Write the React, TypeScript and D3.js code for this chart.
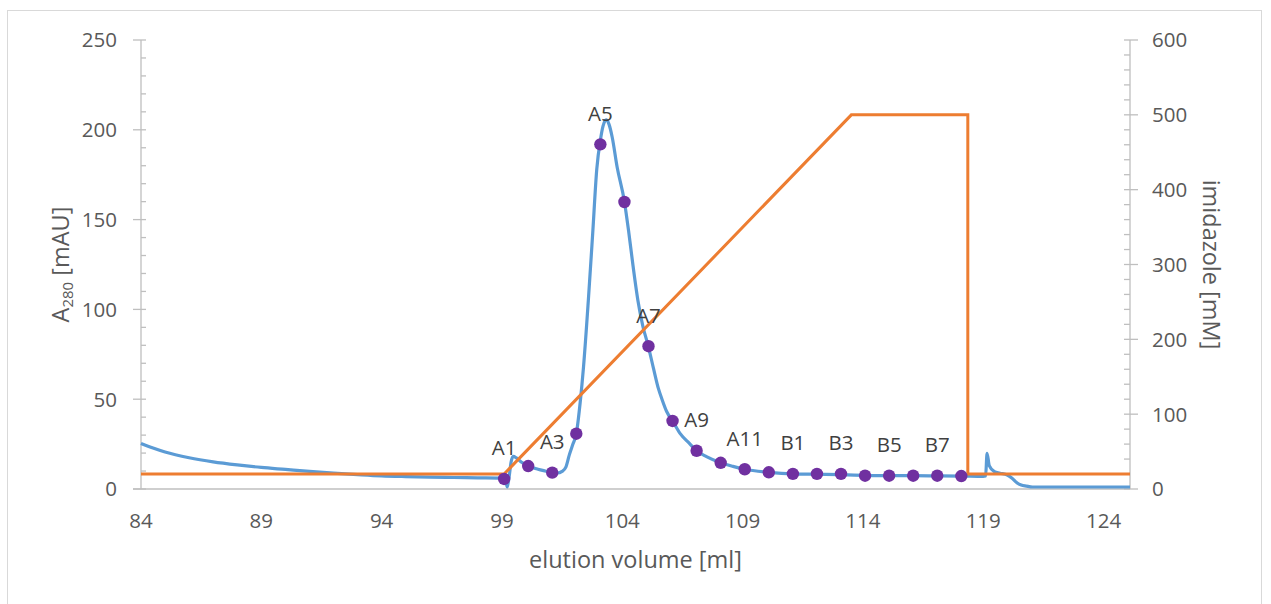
import React from "react";
import * as d3 from "d3";

// A280 trace (elution volume [ml], absorbance [mAU])
const uvVolume = [
  84.0, 84.5, 85.0, 86.0, 87.0, 88.0, 89.0, 90.0, 91.0, 92.0, 93.0, 94.0, 95.0, 96.0, 97.0, 98.0, 99.0,
  99.15, 99.22, 99.3, 99.38, 99.47, 99.6, 99.8, 100.09, 100.5, 100.8, 101.09, 101.3, 101.5, 101.65, 101.8,
  101.95, 102.09, 102.25, 102.39, 102.59, 102.77, 102.94, 103.1, 103.2, 103.33, 103.45, 103.58, 103.79,
  104.09, 104.27, 104.45, 104.65, 104.85, 105.08, 105.3, 105.5, 105.65, 105.85, 106.09, 106.4, 106.79,
  107.09, 107.5, 108.09, 108.6, 109.09, 110.09, 111.09, 112.09, 113.09, 114.09, 115.09, 116.09, 117.09,
  118.09, 119.0, 119.1, 119.16, 119.25, 119.47, 119.7, 120.0, 120.2, 120.4, 120.58, 120.8, 121.05, 122.0,
  123.0, 124.0, 125.1,
];
const uvAbs = [
  25.4, 22.8, 20.6, 17.4, 15.1, 13.4, 12.0, 10.9, 9.8, 8.8, 8.0, 7.3, 6.9, 6.6, 6.4, 6.2, 6.0,
  5.0, 1.1, 7, 15, 18.2, 17.3, 15.0, 12.8, 11.0, 10.0, 9.1, 8.9, 9.8, 12, 19,
  25, 30.8, 48, 68, 105, 142, 178, 195, 202, 205.5, 203, 196, 179,
  160, 143, 124, 105, 91, 79.6, 67, 56, 50, 43, 37.9, 31, 25.4,
  21.3, 18, 14.6, 12.6, 11.0, 9.3, 8.4, 8.2, 8.0, 7.6, 7.4, 7.4, 7.3,
  7.2, 7.0, 7.2, 19.9, 13, 9.6, 8.8, 7.8, 6, 3.5, 2.2, 1.6, 1.1, 1.1,
  1.1, 1.1, 1.1,
];

// Imidazole gradient (elution volume [ml], concentration [mM])
const imVolume = [84.0, 99.09, 113.52, 118.36, 118.36, 125.1];
const imConc = [20, 20, 500, 500, 20, 20];

// Collected fractions
const fracVolume = [
  99.09, 100.09, 101.09, 102.09, 103.09, 104.09, 105.09, 106.09, 107.09, 108.09,
  109.09, 110.09, 111.09, 112.09, 113.09, 114.09, 115.09, 116.09, 117.09, 118.09,
];
const fracAbs = [
  5.6, 12.8, 9.1, 30.8, 191.9, 159.8, 79.5, 37.9, 21.3, 14.6,
  11.0, 9.3, 8.4, 8.4, 8.4, 7.4, 7.4, 7.4, 7.4, 7.2,
];
const fracLabels = [
  "A1", "", "A3", "", "A5", "", "A7", "", "A9", "",
  "A11", "", "B1", "", "B3", "", "B5", "", "B7", "",
];

const xTicks = [84, 89, 94, 99, 104, 109, 114, 119, 124];
const yLeftTicks = [0, 50, 100, 150, 200, 250];
const yRightTicks = [0, 100, 200, 300, 400, 500, 600];

const W = 1271;
const H = 604;
const FONT = "'Open Sans', 'DejaVu Sans', sans-serif";
const AXIS = "#bfbfbf";
const TXT = "#595959";

export default function App() {
  const x = d3.scaleLinear().domain([84, 125.1]).range([141, 1130]);
  const yL = d3.scaleLinear().domain([0, 250]).range([489, 40]);
  const yR = d3.scaleLinear().domain([0, 600]).range([489, 40]);

  const uvLine = d3
    .line<number>()
    .x((_, i) => x(uvVolume[i]))
    .y((d) => yL(d))
    .curve(d3.curveMonotoneX)(uvAbs) as string;

  const imLine = d3
    .line<number>()
    .x((_, i) => x(imVolume[i]))
    .y((d) => yR(d))(imConc) as string;

  const leftMinor = d3.range(0, 251, 10).filter((v) => v % 50 !== 0);
  const rightMinor = d3.range(0, 601, 20).filter((v) => v % 100 !== 0);

  const x0 = x.range()[0];
  const x1 = x.range()[1];
  const y0 = yL.range()[0];
  const yTop = yL.range()[1];

  return (
    <svg
      width={W}
      height={H}
      style={{ position: "absolute", left: 0, top: 0, background: "#fff" }}
      fontFamily={FONT}
    >
      <rect x={7.5} y={10.5} width={1254} height={640} fill="#fff" stroke="#d9d9d9" strokeWidth={1} />

      {/* left axis */}
      <line x1={x0} x2={x0} y1={yTop} y2={y0} stroke={AXIS} strokeWidth={1.3} />
      {yLeftTicks.map((t) => (
        <g key={"l" + t}>
          <line x1={x0 - 8} x2={x0 + 5} y1={yL(t)} y2={yL(t)} stroke={AXIS} strokeWidth={1.3} />
          <text x={117} y={yL(t)} dy="0.36em" textAnchor="end" fontSize={20.5} fill={TXT}>
            {t}
          </text>
        </g>
      ))}
      {leftMinor.map((t) => (
        <line key={"lm" + t} x1={x0} x2={x0 + 5} y1={yL(t)} y2={yL(t)} stroke={AXIS} strokeWidth={1.3} />
      ))}

      {/* right axis */}
      <line x1={x1} x2={x1} y1={yTop} y2={y0} stroke={AXIS} strokeWidth={1.3} />
      {yRightTicks.map((t) => (
        <g key={"r" + t}>
          <line x1={x1 - 6} x2={x1 + 8} y1={yR(t)} y2={yR(t)} stroke={AXIS} strokeWidth={1.3} />
          <text x={1152} y={yR(t)} dy="0.36em" textAnchor="start" fontSize={20.5} fill={TXT}>
            {t}
          </text>
        </g>
      ))}
      {rightMinor.map((t) => (
        <line key={"rm" + t} x1={x1 - 6} x2={x1} y1={yR(t)} y2={yR(t)} stroke={AXIS} strokeWidth={1.3} />
      ))}

      {/* x axis */}
      <line x1={x0 - 8} x2={x1} y1={y0} y2={y0} stroke={AXIS} strokeWidth={1.3} />
      {xTicks.map((t) => (
        <text key={"x" + t} x={x(t)} y={528} textAnchor="middle" fontSize={20.5} fill={TXT}>
          {t}
        </text>
      ))}

      {/* axis titles */}
      <text x={(x0 + x1) / 2} y={568} textAnchor="middle" fontSize={23.5} fill={TXT}>
        elution volume [ml]
      </text>
      <text
        transform={`translate(${69},${(y0 + yTop) / 2}) rotate(-90)`}
        textAnchor="middle"
        fontSize={23.5}
        fill={TXT}
      >
        A<tspan fontSize={15} dy={4}>280</tspan>
        <tspan dy={-4}> [mAU]</tspan>
      </text>
      <text
        transform={`translate(${1203},${(y0 + yTop) / 2}) rotate(90)`}
        textAnchor="middle"
        fontSize={23.5}
        fill={TXT}
      >
        imidazole [mM]
      </text>

      {/* series */}
      <path d={uvLine} fill="none" stroke="#5b9bd5" strokeWidth={3.2} strokeLinejoin="round" />
      <path d={imLine} fill="none" stroke="#ed7d31" strokeWidth={3} strokeLinejoin="miter" />
      {fracAbs.map((v, i) => (
        <circle key={"p" + i} cx={x(fracVolume[i])} cy={yL(v)} r={6.2} fill="#7030a0" />
      ))}
      {fracAbs.map((v, i) => {
        const lab = fracLabels[i];
        if (!lab) return null;
        return (
          <text
            key={"t" + i}
            x={x(fracVolume[i])}
            y={yL(v) - 31}
            dy="0.36em"
            textAnchor="middle"
            fontSize={20.5}
            fill="#404040"
          >
            {lab}
          </text>
        );
      })}
    </svg>
  );
}
